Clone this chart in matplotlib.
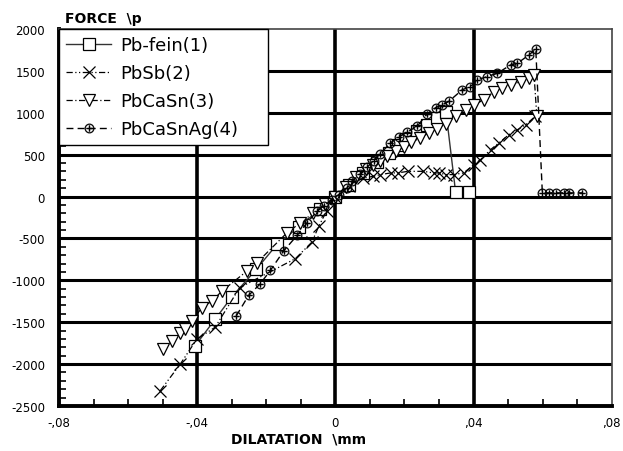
"""Force vs. dilatation curves for four lead alloys."""

import matplotlib

matplotlib.use("Agg")
import matplotlib.pyplot as plt
from matplotlib.ticker import FixedLocator, MultipleLocator, FuncFormatter

plt.rcParams["axes.unicode_minus"] = False

# ── data ────────────────────────────────────────────────────────────────────
pb_fein_x = [-0.0406, -0.0348, -0.0299, -0.0229, -0.0169, -0.0105, -0.0045, 0.0,
             0.004, 0.008, 0.012, 0.0155, 0.018, 0.0205, 0.0235, 0.0265, 0.0295,
             0.032, 0.0348, 0.0386]
pb_fein_y = [-1782, -1464, -1194, -869, -571, -360, -150, 0,
             140, 280, 410, 520, 610, 690, 780, 860, 940,
             1015, 51, 51]

pbsb_x = [-0.0507, -0.0449, -0.0401, -0.0348, -0.0277, -0.0116, -0.0068, -0.0048,
          -0.0025, 0.0, 0.004, 0.008, 0.011, 0.013, 0.016, 0.018, 0.021, 0.0255,
          0.0284, 0.0299, 0.032, 0.0342, 0.0371, 0.0401, 0.042, 0.0449, 0.0473,
          0.0502, 0.0527, 0.0551, 0.0578]
pbsb_y = [-2318, -2000, -1702, -1560, -1087, -742, -544, -353,
          -170, 0, 130, 220, 242, 262, 282, 282, 301, 301,
          282, 282, 262, 262, 282, 381, 440, 560, 639,
          738, 798, 857, 956]

pbcasn_x = [-0.0498, -0.0473, -0.0449, -0.0435, -0.0415, -0.0386, -0.0357, -0.0328,
            -0.0256, -0.0227, -0.014, -0.0101, -0.0065, -0.003, 0.0, 0.003, 0.006,
            0.009, 0.011, 0.013, 0.015, 0.0175, 0.0198, 0.022, 0.0246, 0.027,
            0.0295, 0.032, 0.0348, 0.0377, 0.0401, 0.043, 0.0459, 0.0483, 0.0507,
            0.0536, 0.056, 0.0575, 0.0583]
pbcasn_y = [-1821, -1722, -1623, -1583, -1484, -1325, -1246, -1127,
            -889, -789, -432, -313, -200, -90, 0, 120, 230,
            330, 380, 430, 480, 540, 590, 650, 700, 760,
            810, 870, 960, 1036, 1095, 1155, 1254, 1294, 1333,
            1373, 1413, 1452, 960]

pbcasnag_x = [-0.0287, -0.0251, -0.0219, -0.0188, -0.015, -0.0111, -0.0082, -0.0053,
              -0.0034, -0.001, 0.001, 0.0034, 0.0048, 0.0072, 0.0092, 0.0111, 0.013,
              0.0159, 0.0183, 0.0208, 0.0237, 0.0266, 0.029, 0.0309, 0.0328, 0.0367,
              0.0391, 0.0411, 0.044, 0.0469, 0.0507, 0.0527, 0.056, 0.058, 0.0599,
              0.0618, 0.0638, 0.0662, 0.0676, 0.0715]
pbcasnag_y = [-1425, -1179, -1048, -881, -651, -464, -313, -175,
              -115, -36, 24, 104, 180, 270, 350, 430, 510,
              640, 710, 770, 840, 990, 1060, 1095, 1135, 1274,
              1313, 1393, 1433, 1472, 1571, 1591, 1690, 1760, 44,
              44, 44, 44, 44, 44]

series_labels = ["Pb-fein(1)", "PbSb(2)", "PbCaSn(3)", "PbCaSnAg(4)"]
x_ticks = [-0.08, -0.04, 0.0, 0.04, 0.08]
x_tick_labels = ["-,08", "-,04", "0", ",04", ",08"]
y_ticks = [2000, 1500, 1000, 500, 0, -500, -1000, -1500, -2000, -2500]

fig = plt.figure(figsize=(6.23, 4.52), dpi=100)
ax = fig.add_axes([0.0947, 0.0996, 0.8873, 0.8340])

# ── grid (thick black lines) ────────────────────────────────────────────────
for xv in (-0.04, 0.0, 0.04):
    ax.axvline(xv, color="black", lw=2.6, zorder=1)
for yv in y_ticks[1:-1]:
    ax.axhline(yv, color="black", lw=2.2, zorder=1)

# ── series ──────────────────────────────────────────────────────────────────
ax.plot(pb_fein_x, pb_fein_y, color="#333333", lw=1.0, ls="-",
        marker="s", ms=9, mfc="white", mec="black", mew=0.9,
        label=series_labels[0], zorder=3)
ax.plot(pbsb_x, pbsb_y, color="black", lw=0.9, ls=(0, (5, 2, 1, 2, 1, 2)),
        marker="x", ms=8, mec="black", mew=0.9,
        label=series_labels[1], zorder=3)
ax.plot(pbcasn_x, pbcasn_y, color="black", lw=0.9, ls=(0, (5, 2, 1, 2)),
        marker="v", ms=8, mfc="white", mec="black", mew=0.9,
        label=series_labels[2], zorder=3)
ax.plot(pbcasnag_x, pbcasnag_y, color="black", lw=1.0, ls=(0, (5, 3)),
        marker=r"$\oplus$", ms=7, mec="black", mfc="black", mew=0.1,
        label=series_labels[3], zorder=3)

# ── axes ────────────────────────────────────────────────────────────────────
ax.set_xlim(-0.08, 0.08)
ax.set_ylim(-2500, 2000)
ax.xaxis.set_major_locator(FixedLocator(x_ticks))
ax.xaxis.set_major_formatter(FuncFormatter(
    lambda v, pos: x_tick_labels[x_ticks.index(round(v, 2))] if round(v, 2) in x_ticks else ""))
ax.xaxis.set_minor_locator(MultipleLocator(0.01))
ax.yaxis.set_major_locator(FixedLocator(y_ticks))
ax.yaxis.set_minor_locator(MultipleLocator(100))
ax.tick_params(which="major", length=0, labelsize=8.5)
ax.tick_params(axis="x", which="major", pad=7)
ax.tick_params(axis="y", which="major", pad=10)
ax.tick_params(which="minor", direction="in", length=5, width=1.2, color="black")
ax.tick_params(axis="x", which="minor", top=False)
ax.tick_params(axis="y", which="minor", right=False)

for side in ("left", "bottom"):
    ax.spines[side].set_linewidth(2.8)
for side in ("top", "right"):
    ax.spines[side].set_linewidth(1.2)
    ax.spines[side].set_color("#444444")

leg = ax.legend(loc="upper left", bbox_to_anchor=(0.0, 0.0, 0.378, 1.0),
                mode="expand", fontsize=13, frameon=True, fancybox=False,
                borderaxespad=0.0, handlelength=2.5, handletextpad=0.5,
                labelspacing=0.55, borderpad=0.4)
leg.get_frame().set_edgecolor("black")
leg.get_frame().set_linewidth(1.0)
leg.get_frame().set_alpha(1.0)
leg.set_zorder(5)

fig.text(0.105, 0.958, "FORCE  \\p", fontsize=10, fontweight="bold", va="center")
fig.text(0.48, 0.028, "DILATATION  \\mm", fontsize=10, fontweight="bold",
         ha="center", va="center")

plt.savefig("out.png", dpi=100)
plt.close(fig)
